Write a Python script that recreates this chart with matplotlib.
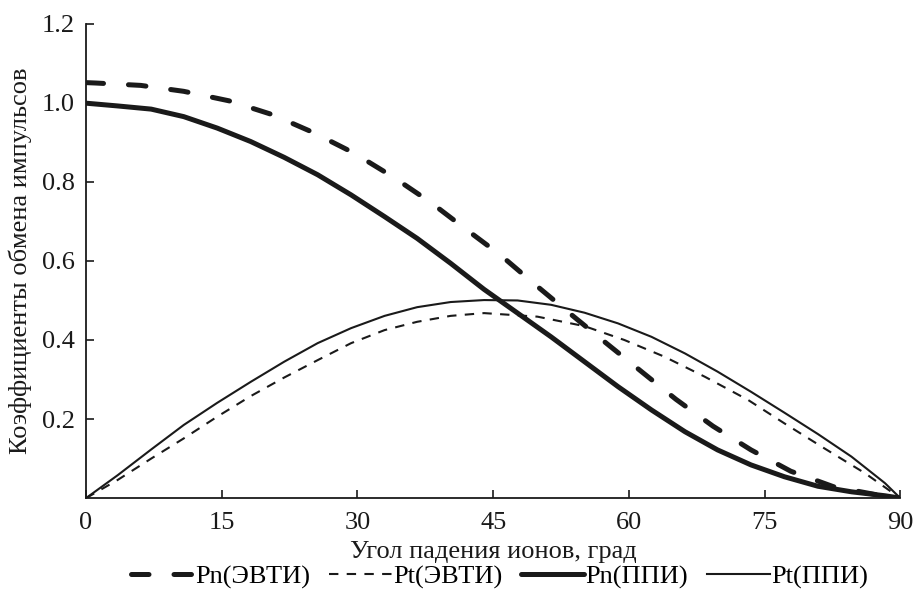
import matplotlib
matplotlib.use("Agg")
import matplotlib.pyplot as plt

plt.rcParams['font.family'] = ['Liberation Serif', 'DejaVu Serif']

# Pn(ЭВТИ)
pn_evti_x = [0, 1.07, 6.05, 10.8, 15.8, 20.6, 25.1, 29.6, 33.9, 38.1, 42.0, 45.8, 49.7, 53.7, 57.5, 61.4, 65.2, 69.3, 73.5, 77.9, 82.6, 87.5, 90]
pn_evti_y = [1.051, 1.050, 1.044, 1.029, 1.005, 0.970, 0.925, 0.873, 0.813, 0.748, 0.680, 0.615, 0.539, 0.463, 0.392, 0.320, 0.250, 0.182, 0.122, 0.068, 0.029, 0.008, 0.0]
# Pt(ЭВТИ)
pt_evti_x = [0, 3.5, 7.2, 10.8, 14.5, 18.2, 21.9, 25.6, 29.3, 33.0, 36.6, 40.3, 44.0, 49.9, 55.1, 59.5, 63.9, 68.4, 73.2, 77.2, 81.6, 86.1, 90]
pt_evti_y = [0.0, 0.046, 0.100, 0.151, 0.206, 0.258, 0.305, 0.349, 0.392, 0.425, 0.446, 0.461, 0.468, 0.459, 0.435, 0.400, 0.358, 0.307, 0.248, 0.189, 0.126, 0.063, 0.0]
# Pn(ППИ)
pn_ppi_x = [0, 3.5, 7.2, 10.8, 14.5, 18.2, 21.9, 25.6, 29.3, 33.0, 36.6, 40.3, 44.0, 47.7, 51.4, 55.1, 58.8, 62.5, 66.2, 69.8, 73.5, 77.2, 80.9, 84.6, 88.3, 90]
pn_ppi_y = [0.999, 0.992, 0.984, 0.965, 0.936, 0.902, 0.862, 0.818, 0.767, 0.712, 0.657, 0.594, 0.528, 0.468, 0.408, 0.345, 0.282, 0.223, 0.168, 0.122, 0.084, 0.054, 0.030, 0.016, 0.006, 0.0]
# Pt(ППИ)
pt_ppi_x = [0, 3.5, 7.2, 10.8, 14.5, 18.2, 21.9, 25.6, 29.3, 33.0, 36.6, 40.3, 44.0, 47.7, 51.4, 55.1, 58.8, 62.5, 66.2, 69.8, 73.5, 77.2, 80.9, 84.6, 88.3, 90]
pt_ppi_y = [0.0, 0.058, 0.123, 0.185, 0.241, 0.294, 0.345, 0.392, 0.430, 0.461, 0.483, 0.496, 0.501, 0.500, 0.489, 0.469, 0.442, 0.408, 0.366, 0.320, 0.269, 0.216, 0.162, 0.105, 0.038, 0.0]

labels = ['Pn(ЭВТИ)', 'Pt(ЭВТИ)', 'Pn(ППИ)', 'Pt(ППИ)']
xticks = [0, 15, 30, 45, 60, 75, 90]
yticks = [0.2, 0.4, 0.6, 0.8, 1.0, 1.2]

fig = plt.figure(figsize=(9.18, 5.93), dpi=100)
ax = fig.add_axes([0.0937, 0.160, 0.887, 0.800])

c = '#1a1a1a'
fs = 19
serif = ['Liberation Serif', 'DejaVu Serif']
l1, = ax.plot(pn_evti_x, pn_evti_y, color=c, lw=3.6, linestyle=(0, (3.5, 5)), dash_capstyle='round')
l2, = ax.plot(pt_evti_x, pt_evti_y, color=c, lw=1.5, linestyle=(0, (4.5, 4)))
l3, = ax.plot(pn_ppi_x, pn_ppi_y, color=c, lw=3.6, solid_capstyle='round', solid_joinstyle='round')
l4, = ax.plot(pt_ppi_x, pt_ppi_y, color=c, lw=1.5)

ax.set_xlim(0, 90)
ax.set_ylim(0, 1.2)
ax.set_xticks(xticks)
ax.set_xticklabels([str(v) for v in xticks])
ax.set_yticks(yticks)
ax.set_yticklabels(['%.1f' % v for v in yticks])
ax.tick_params(direction='in', length=6, width=1.2, labelsize=fs, colors=c)
ax.tick_params(axis='x', pad=10)
ax.tick_params(axis='y', pad=8)
for s in ['top', 'right']:
    ax.spines[s].set_visible(False)
for s in ['left', 'bottom']:
    ax.spines[s].set_linewidth(1.3)
    ax.spines[s].set_color(c)

ax.set_xlabel('Угол падения ионов, град', fontsize=fs, labelpad=5, color=c, family=serif)
ax.set_ylabel('Коэффициенты обмена импульсов', fontsize=fs, labelpad=7, color=c, family=serif)

fig.legend([l1, l2, l3, l4], labels, loc='center', bbox_to_anchor=(0.544, 0.027), ncol=4,
           frameon=False, prop={'family': serif, 'size': fs}, handlelength=2.4,
           handletextpad=0.05, columnspacing=0.7, borderpad=0, borderaxespad=0)

fig.savefig('out.png', dpi=100)
